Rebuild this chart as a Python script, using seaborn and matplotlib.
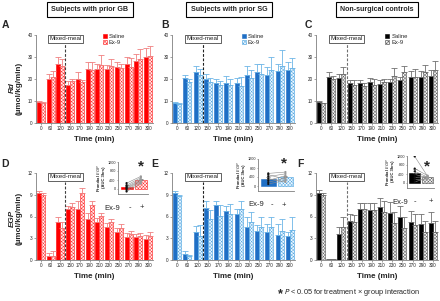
import numpy as np
import pandas as pd
import matplotlib
matplotlib.use("Agg")
import matplotlib.pyplot as plt
import matplotlib.transforms as mtransforms
import seaborn as sns

sns.set_style("ticks")
plt.rcParams['font.family'] = ['Liberation Sans', 'DejaVu Sans']
plt.rcParams['hatch.linewidth'] = 0.3

# ---- data -------------------------------------------------------------
times = ["0", "60", "120", "150", "170", "190", "210", "230", "250", "270", "290", "300"]

# Rd (umol/kg/min)
gb_rd_sal = [9.5, 20.0, 27.0, 17.5, 20.0, 24.5, 24.5, 24.5, 25.5, 27.0, 28.0, 30.0]
gb_rd_ex9 = [9.3, 21.0, 26.0, 19.0, 18.5, 24.0, 26.5, 26.0, 25.0, 25.5, 29.0, 30.5]
gb_rd_sal_err = [0.3, 2.5, 3.0, 1.5, 3.2, 3.2, 2.2, 2.0, 2.0, 3.0, 3.5, 4.0]
gb_rd_ex9_err = [0.3, 2.5, 3.0, 1.2, 1.2, 3.5, 4.5, 3.0, 2.0, 4.0, 4.5, 4.5]

sg_rd_sal = [9.3, 20.5, 23.0, 20.0, 18.2, 18.2, 18.0, 22.0, 23.0, 22.0, 23.5, 24.0]
sg_rd_ex9 = [8.8, 18.5, 22.0, 18.5, 17.2, 17.2, 17.0, 20.5, 22.5, 24.0, 26.0, 25.0]
sg_rd_sal_err = [0.2, 1.5, 3.0, 2.5, 2.0, 3.0, 2.5, 4.0, 4.0, 3.5, 3.5, 3.5]
sg_rd_ex9_err = [0.2, 1.5, 2.5, 2.0, 2.0, 3.0, 4.0, 3.5, 4.5, 6.0, 7.0, 4.5]

ct_rd_sal = [9.5, 21.0, 20.3, 18.0, 18.2, 18.8, 17.7, 18.5, 19.5, 21.0, 21.0, 21.5]
ct_rd_ex9 = [9.0, 20.0, 22.5, 17.5, 16.7, 17.5, 18.7, 21.5, 23.0, 21.0, 23.0, 24.0]
ct_rd_sal_err = [0.3, 2.0, 2.0, 1.5, 1.5, 1.5, 1.8, 1.5, 1.5, 2.5, 2.5, 2.5]
ct_rd_ex9_err = [0.3, 1.5, 3.0, 2.0, 1.5, 2.5, 1.5, 3.5, 3.0, 3.5, 3.5, 4.0]

# EGP (umol/kg/min)
gb_egp_sal = [9.2, 0.5, 5.2, 7.0, 7.1, 5.6, 5.2, 4.6, 3.9, 3.2, 3.2, 2.9]
gb_egp_ex9 = [9.0, 0.6, 4.4, 7.3, 9.2, 7.6, 6.1, 5.2, 4.4, 3.6, 3.3, 3.3]
gb_egp_sal_err = [0.3, 0.4, 0.8, 0.5, 1.0, 0.9, 0.6, 0.5, 0.5, 0.5, 0.4, 0.5]
gb_egp_ex9_err = [0.3, 0.6, 0.8, 0.5, 0.8, 0.5, 0.4, 0.5, 0.5, 0.4, 0.4, 0.5]

sg_egp_sal = [9.2, 0.8, 3.9, 7.2, 7.6, 6.8, 6.3, 4.6, 4.0, 3.9, 3.5, 3.3]
sg_egp_ex9 = [8.8, 0.5, 3.3, 5.7, 6.1, 6.4, 7.0, 5.3, 4.5, 4.5, 4.0, 4.2]
sg_egp_sal_err = [0.3, 0.4, 0.8, 0.9, 0.5, 0.7, 0.8, 1.4, 0.8, 1.0, 1.5, 0.6]
sg_egp_ex9_err = [0.2, 0.2, 1.5, 1.2, 1.5, 1.3, 1.2, 1.3, 1.5, 1.4, 1.6, 1.8]

ct_egp_sal = [9.3, 0.1, 3.6, 5.4, 7.0, 6.9, 7.3, 6.5, 6.0, 5.2, 4.9, 5.1]
ct_egp_ex9 = [9.0, 0.1, 4.5, 5.2, 7.1, 6.9, 6.6, 5.1, 4.4, 4.8, 3.9, 3.9]
ct_egp_sal_err = [0.3, 0.1, 0.9, 0.9, 0.8, 1.0, 1.3, 1.5, 1.5, 1.5, 1.5, 1.5]
ct_egp_ex9_err = [0.3, 0.1, 1.5, 1.0, 0.8, 1.0, 1.5, 1.5, 1.5, 1.5, 1.5, 1.5]

# prandial EGP, AUC 3 hrs, individual subjects
gb_auc_sal = [260, 170, 110, 60, 20, -40, -110]
gb_auc_ex9 = [560, 500, 430, 380, 340, 300, 240]
sg_auc_sal = [560, 500, 420, 330, 250, 170, 90]
sg_auc_ex9 = [620, 300, 540, 180, 460, 350, 250]
ct_auc_sal = [1180, 640, 520, 380, 250, 160, 50]
ct_auc_ex9 = [300, 330, 260, 240, 280, 180, 220]
gb_auc_err = [90, 50]
sg_auc_err = [70, 60]
ct_auc_err = [150, 25]

# ---- styles -----------------------------------------------------------
styles = {
    "gb": dict(sal="#ff0000", hatch="#ff2020", face="#fff0f0", err="#f08080", dash="#404040"),
    "sg": dict(sal="#1f6fc5", hatch="#4aa3e0", face="#f0f8ff", err="#6db5e6", dash="#202020"),
    "ct": dict(sal="#000000", hatch="#505050", face="#f4f4f4", err="#707070", dash="#707070"),
}

W, H = 440, 301
fig = plt.figure(figsize=(W / 100, H / 100), dpi=100)


def px_axes(left, top, right, bottom):
    return fig.add_axes([left / W, 1 - bottom / H, (right - left) / W, (bottom - top) / H])


def style_axes(ax, size=3.3):
    sns.despine(ax=ax)
    for s in ("left", "bottom"):
        ax.spines[s].set_color("#7f7f7f")
        ax.spines[s].set_linewidth(0.6)
    ax.tick_params(length=1.5, width=0.5, color="#7f7f7f", labelsize=size, pad=1)


def hatch_bars(bars, st):
    for b in bars:
        b.set_facecolor(st["face"])
        b.set_edgecolor(st["hatch"])
        b.set_hatch("xxxxxxxxxx")
        b.set_linewidth(0.4)


def add_err(ax, bars, err, color, capsize=2):
    x = [b.get_x() + b.get_width() / 2 for b in bars]
    y = [b.get_height() for b in bars]
    ax.errorbar(x, y, yerr=[np.zeros(len(err)), err], fmt="none", ecolor=color,
                elinewidth=0.6, capsize=capsize, capthick=0.6)


def panel(ax, sal, ex9, sal_err, ex9_err, st, ylim, yticks, legend):
    df = pd.DataFrame({"time": times * 2,
                       "treatment": ["Saline"] * len(times) + ["Ex-9"] * len(times),
                       "value": sal + ex9})
    sns.barplot(data=df, x="time", y="value", hue="treatment", order=times,
                hue_order=["Saline", "Ex-9"], palette=[st["sal"], "white"],
                errorbar=None, width=0.8, saturation=1, legend=False, ax=ax,
                linewidth=0.4, edgecolor=st["sal"])
    hatch_bars(ax.containers[1], st)
    add_err(ax, ax.containers[0], sal_err, st["err"])
    add_err(ax, ax.containers[1], ex9_err, st["err"])
    ax.set_ylim(*ylim)
    ax.set_yticks(yticks)
    ax.set_xlim(-0.5, len(times) - 0.5)
    ax.set_xlabel("Time (min)", fontsize=5.8, fontweight="bold", labelpad=3)
    ax.set_ylabel("")
    style_axes(ax)
    ax.axvline(2.5, ymin=0, ymax=0.9, ls=(0, (2.5, 1.5)), color=st["dash"], lw=0.8)
    trans = mtransforms.blended_transform_factory(ax.transData, ax.transAxes)
    ax.text(2.5, 0.955, "Mixed-meal", transform=trans, ha="center", va="center",
            fontsize=4.5, color="#222222",
            bbox=dict(boxstyle="square,pad=0.25", fc="white", ec="#222222", lw=0.5))
    if legend:
        ax.legend([ax.containers[0], ax.containers[1]], ["Saline", "Ex-9"],
                  loc="upper left", bbox_to_anchor=(0.54, 1.05), frameon=False,
                  fontsize=4.2, handlelength=0.7, handleheight=0.7,
                  handletextpad=0.3, labelspacing=0.15, borderpad=0.1)


def inset(ax, sal_pts, ex9_pts, err, st):
    df = pd.DataFrame({"grp": ["Saline", "Ex-9"], "auc": [np.mean(sal_pts), np.mean(ex9_pts)]})
    sns.barplot(data=df, x="grp", y="auc", order=["Saline", "Ex-9"], hue="grp",
                hue_order=["Saline", "Ex-9"], palette=[st["sal"], "white"],
                saturation=1, errorbar=None, width=0.85, legend=False, ax=ax,
                linewidth=0.4, edgecolor=st["sal"])
    hatch_bars(ax.containers[1], st)
    bars = [ax.containers[0][0], ax.containers[1][0]]
    add_err(ax, bars, err, "#808080", capsize=1.5)
    for a, b in zip(sal_pts, ex9_pts):
        ax.plot([0, 1], [a, b], color="#8a8a8a", lw=0.4, zorder=4)
    pts = pd.DataFrame({"grp": ["Saline"] * len(sal_pts) + ["Ex-9"] * len(ex9_pts),
                        "auc": sal_pts + ex9_pts})
    sns.stripplot(data=pts, x="grp", y="auc", order=["Saline", "Ex-9"], hue="grp",
                  hue_order=["Saline", "Ex-9"], palette=["#111111", "#9a9a9a"],
                  jitter=False, size=1.6, legend=False, ax=ax, zorder=5)
    ax.set_ylim(-200, 1200)
    ax.set_yticks([0, 400, 800, 1200])
    ax.set_xlim(-0.6, 1.5)
    ax.set_xticks([])
    ax.set_xlabel("")
    ax.set_ylabel("Prandial $\\it{EGP}$\n(AUC 3hrs)", fontsize=3.0, fontweight="bold",
                  labelpad=1, linespacing=1.1)
    style_axes(ax, size=2.7)
    ax.tick_params(length=1, pad=0.6)


# ---- main panels ------------------------------------------------------
axA = px_axes(36, 35, 153, 123)
axB = px_axes(172, 35, 295, 123)
axC = px_axes(316, 35, 438, 123)
axD = px_axes(36, 173, 153, 260)
axE = px_axes(172, 173, 295, 260)
axF = px_axes(316, 173, 438, 260)

panel(axA, gb_rd_sal, gb_rd_ex9, gb_rd_sal_err, gb_rd_ex9_err, styles["gb"], (0, 40), [0, 10, 20, 30, 40], True)
panel(axB, sg_rd_sal, sg_rd_ex9, sg_rd_sal_err, sg_rd_ex9_err, styles["sg"], (0, 40), [0, 10, 20, 30, 40], True)
panel(axC, ct_rd_sal, ct_rd_ex9, ct_rd_sal_err, ct_rd_ex9_err, styles["ct"], (0, 40), [0, 10, 20, 30, 40], True)
panel(axD, gb_egp_sal, gb_egp_ex9, gb_egp_sal_err, gb_egp_ex9_err, styles["gb"], (0, 12), [0, 3, 6, 9, 12], False)
panel(axE, sg_egp_sal, sg_egp_ex9, sg_egp_sal_err, sg_egp_ex9_err, styles["sg"], (0, 12), [0, 3, 6, 9, 12], False)
panel(axF, ct_egp_sal, ct_egp_ex9, ct_egp_sal_err, ct_egp_ex9_err, styles["ct"], (0, 12), [0, 3, 6, 9, 12], False)

# ---- insets -----------------------------------------------------------
inD = px_axes(118, 162, 148, 193.5)
inE = px_axes(258, 159, 294, 190.5)
inF = px_axes(407, 156, 434, 187.5)
inset(inD, gb_auc_sal, gb_auc_ex9, gb_auc_err, styles["gb"])
inset(inE, sg_auc_sal, sg_auc_ex9, sg_auc_err, styles["sg"])
inset(inF, ct_auc_sal, ct_auc_ex9, ct_auc_err, styles["ct"])


def ftext(x, y, s, **kw):
    fig.text(x / W, 1 - y / H, s, **kw)


# Ex-9 - + labels and stars
for (ex, mn, pl, yy), (sx, sy) in zip([(112, 130, 142, 208), (256, 272, 284, 205), (400, 415, 431, 202)],
                                      [(141, 166), (284, 163), (427, 166)]):
    ftext(ex, yy, "Ex-9", fontsize=5.5, ha="center", va="center")
    ftext(mn, yy, "-", fontsize=5.5, ha="center", va="center")
    ftext(pl, yy, "+", fontsize=5.5, ha="center", va="center")
    ftext(sx, sy, "*", fontsize=11, fontweight="bold", ha="center", va="center")

# titles
for x, t in [(90, "Subjects with prior GB"), (229, "Subjects with prior SG"), (377, "Non-surgical controls")]:
    ftext(x, 9.5, t, fontsize=5.1, fontweight="bold", ha="center", va="center",
          bbox=dict(boxstyle="square,pad=0.6", fc="white", ec="black", lw=0.8))

# panel letters
for x, y, l in [(5, 25, "A"), (165, 25, "B"), (308, 25, "C"), (5, 164, "D"), (155, 164, "E"), (300, 164, "F")]:
    ftext(x, y, l, fontsize=7.5, fontweight="bold", ha="center", va="center")

# y labels
ftext(12, 88, "Rd", fontsize=5.9, fontweight="bold", style="italic", rotation=90, ha="center", va="center")
ftext(19, 88, "(\u00b5mol/kg/min)", fontsize=5.9, fontweight="bold", rotation=90, ha="center", va="center")
ftext(12, 218, "EGP", fontsize=5.9, fontweight="bold", style="italic", rotation=90, ha="center", va="center")
ftext(19, 218, "(\u00b5mol/kg/min)", fontsize=5.9, fontweight="bold", rotation=90, ha="center", va="center")

# footnote
ftext(280, 294, "*", fontsize=9, fontweight="bold", ha="center", va="center")
ftext(284, 292, "$\\it{P}$ < 0.05 for treatment \u00d7 group interaction", fontsize=5.3,
      ha="left", va="center")

fig.savefig("out.png", dpi=100)
